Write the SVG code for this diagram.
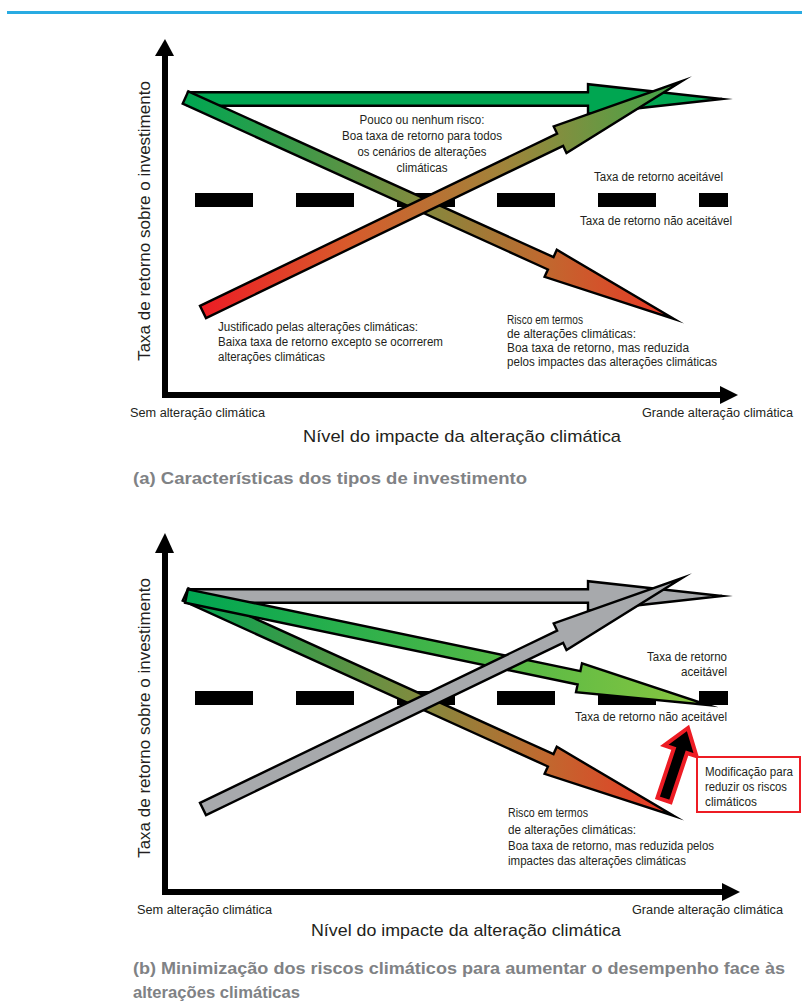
<svg xmlns="http://www.w3.org/2000/svg" width="802" height="1003" viewBox="0 0 802 1003">
<style>
.t{font-family:"Liberation Sans",Arial,sans-serif;font-size:12.5px;fill:#231f20}
.ax{font-family:"Liberation Sans",Arial,sans-serif;font-size:17px;fill:#231f20}
.cap{font-family:"Liberation Sans",Arial,sans-serif;font-size:16px;font-weight:bold;fill:#808285}
.arr{stroke:#000;stroke-width:2.4;stroke-linejoin:miter;stroke-miterlimit:12}
.dash{fill:#000}
</style>
<defs>
<linearGradient id="gDown" gradientUnits="userSpaceOnUse" x1="188" y1="0" x2="682" y2="0">
<stop offset="0" stop-color="#00a651"/><stop offset="0.45" stop-color="#7d8c3f"/><stop offset="0.72" stop-color="#c0692f"/><stop offset="1" stop-color="#ee3224"/>
</linearGradient>
<linearGradient id="gUp" gradientUnits="userSpaceOnUse" x1="200" y1="0" x2="690" y2="0">
<stop offset="0" stop-color="#ed1c24"/><stop offset="0.3" stop-color="#d85a2b"/><stop offset="0.62" stop-color="#a0843a"/><stop offset="1" stop-color="#3aa84a"/>
</linearGradient>
<linearGradient id="gLight" gradientUnits="userSpaceOnUse" x1="188" y1="0" x2="716" y2="0">
<stop offset="0" stop-color="#00a651"/><stop offset="1" stop-color="#8dc63f"/>
</linearGradient>
</defs>
<rect x="7" y="11" width="795" height="3" fill="#29abe2"/>

<g id="panel-a">
<g id="axes-a">
<rect x="162" y="55" width="6" height="343"/>
<polygon points="155,56 165,39 174,56"/>
<rect x="162" y="392" width="560" height="6"/>
<polygon points="720,386 738,395 720,404"/>
</g>
<g id="threshold-a">
<rect class="dash" x="195" y="193" width="58" height="14"/>
<rect class="dash" x="296" y="193" width="58" height="14"/>
<rect class="dash" x="397" y="193" width="58" height="14"/>
<rect class="dash" x="497" y="193" width="58" height="14"/>
<rect class="dash" x="598" y="193" width="58" height="14"/>
<rect class="dash" x="699" y="193" width="29" height="14"/>
</g>
<g id="connectors-a">
<polygon class="arr" fill="#00a651" points="188,92.2 588,92.2 588,84.2 722,99 588,113.8 588,105.8 188,105.8"/>
<polygon class="arr" fill="url(#gDown)" points="188.3,91.3 553.5,257.1 556.8,249.8 674,319 544.6,276.8 547.9,269.5 182.7,103.7"/>
<polygon class="arr" fill="url(#gUp)" points="200,305.9 557.1,133.6 553.7,126.4 682,81 566.5,153 563.1,145.8 206,318.1"/>
</g>
<g id="labels-a">
<text class="t" text-anchor="middle" x="422" y="124" textLength="125" lengthAdjust="spacingAndGlyphs">Pouco ou nenhum risco:</text>
<text class="t" text-anchor="middle" x="422" y="140" textLength="160" lengthAdjust="spacingAndGlyphs">Boa taxa de retorno para todos</text>
<text class="t" text-anchor="middle" x="422" y="156" textLength="129" lengthAdjust="spacingAndGlyphs">os cenários de alterações</text>
<text class="t" text-anchor="middle" x="422" y="172" textLength="51" lengthAdjust="spacingAndGlyphs">climáticas</text>
<text class="t" x="594" y="181" textLength="129" lengthAdjust="spacingAndGlyphs">Taxa de retorno aceitável</text>
<text class="t" x="580" y="225" textLength="152" lengthAdjust="spacingAndGlyphs">Taxa de retorno não aceitável</text>
<text class="t" x="218" y="331" textLength="200" lengthAdjust="spacingAndGlyphs">Justificado pelas alterações climáticas:</text>
<text class="t" x="218" y="346" textLength="225" lengthAdjust="spacingAndGlyphs">Baixa taxa de retorno excepto se ocorrerem</text>
<text class="t" x="218" y="361" textLength="107" lengthAdjust="spacingAndGlyphs">alterações climáticas</text>
<text class="t" x="507" y="324" textLength="76" lengthAdjust="spacingAndGlyphs">Risco em termos</text>
<text class="t" x="507" y="338" textLength="129" lengthAdjust="spacingAndGlyphs">de alterações climáticas:</text>
<text class="t" x="507" y="352" textLength="182" lengthAdjust="spacingAndGlyphs">Boa taxa de retorno, mas reduzida</text>
<text class="t" x="507" y="366" textLength="210" lengthAdjust="spacingAndGlyphs">pelos impactes das alterações climáticas</text>
<text class="t" x="130" y="417" textLength="135" lengthAdjust="spacingAndGlyphs">Sem alteração climática</text>
<text class="t" x="642" y="417" textLength="151" lengthAdjust="spacingAndGlyphs">Grande alteração climática</text>
<text class="ax" x="303" y="442" textLength="318" lengthAdjust="spacingAndGlyphs">Nível do impacte da alteração climática</text>
<text class="ax" text-anchor="middle" transform="translate(150,221) rotate(-90)">Taxa de retorno sobre o investimento</text>
<text class="cap" x="133" y="484" textLength="394" lengthAdjust="spacingAndGlyphs">(a) Características dos tipos de investimento</text>
</g>
</g>

<g id="panel-b">
<g id="axes-b">
<rect x="162" y="552" width="6" height="343"/>
<polygon points="155,553 165,533 174,553"/>
<rect x="162" y="889" width="560" height="6"/>
<polygon points="722,883 740,892 722,901"/>
</g>
<g id="threshold-b">
<rect class="dash" x="195" y="691" width="58" height="14"/>
<rect class="dash" x="296" y="691" width="58" height="14"/>
<rect class="dash" x="397" y="691" width="58" height="14"/>
<rect class="dash" x="497" y="691" width="58" height="14"/>
<rect class="dash" x="598" y="691" width="58" height="14"/>
<rect class="dash" x="699" y="691" width="29" height="14"/>
</g>
<g id="connectors-b">
<polygon class="arr" fill="#a7a9ac" points="188,589.2 588,589.2 588,581.2 722,596 588,610.8 588,602.8 188,602.8"/>
<polygon class="arr" fill="url(#gDown)" transform="translate(0,497)" points="188.3,91.3 553.5,257.1 556.8,249.8 674,319 544.6,276.8 547.9,269.5 182.7,103.7"/>
<polygon class="arr" fill="url(#gLight)" points="187.9,589.3 580.4,671.1 582,663.3 708,705 576,692.3 577.6,684.5 185.1,602.7"/>
<polygon class="arr" fill="#a7a9ac" transform="translate(0,497)" points="200,305.9 557.1,133.6 553.7,126.4 682,81 566.5,153 563.1,145.8 206,318.1"/>
<polygon fill="#000" stroke="#ed1c24" stroke-width="4" stroke-linejoin="miter" points="657.4,797.8 673.8,748.6 664.3,745.4 688,728 696.5,756.2 687,753 670.6,802.2"/>
</g>
<g id="note-b">
<rect x="697" y="757" width="103" height="55" fill="#fff" stroke="#ed1c24" stroke-width="2"/>
<text class="t" x="705" y="776" textLength="88" lengthAdjust="spacingAndGlyphs">Modificação para</text>
<text class="t" x="705" y="791" textLength="82" lengthAdjust="spacingAndGlyphs">reduzir os riscos</text>
<text class="t" x="705" y="806" textLength="52" lengthAdjust="spacingAndGlyphs">climáticos</text>
</g>
<g id="labels-b">
<text class="t" x="647" y="661" textLength="80" lengthAdjust="spacingAndGlyphs">Taxa de retorno</text>
<text class="t" x="681" y="676" textLength="46" lengthAdjust="spacingAndGlyphs">aceitável</text>
<text class="t" x="575" y="721" textLength="152" lengthAdjust="spacingAndGlyphs">Taxa de retorno não aceitável</text>
<text class="t" x="508" y="817" textLength="80" lengthAdjust="spacingAndGlyphs">Risco em termos</text>
<text class="t" x="508" y="834" textLength="128" lengthAdjust="spacingAndGlyphs">de alterações climáticas:</text>
<text class="t" x="508" y="850" textLength="206" lengthAdjust="spacingAndGlyphs">Boa taxa de retorno, mas reduzida pelos</text>
<text class="t" x="508" y="865" textLength="178" lengthAdjust="spacingAndGlyphs">impactes das alterações climáticas</text>
<text class="t" x="137" y="914" textLength="135" lengthAdjust="spacingAndGlyphs">Sem alteração climática</text>
<text class="t" x="632" y="914" textLength="151" lengthAdjust="spacingAndGlyphs">Grande alteração climática</text>
<text class="ax" x="311" y="936" textLength="310" lengthAdjust="spacingAndGlyphs">Nível do impacte da alteração climática</text>
<text class="ax" text-anchor="middle" transform="translate(150,718) rotate(-90)">Taxa de retorno sobre o investimento</text>
<text class="cap" x="133" y="974" textLength="652" lengthAdjust="spacingAndGlyphs">(b) Minimização dos riscos climáticos para aumentar o desempenho face às</text>
<text class="cap" x="133" y="998" textLength="167" lengthAdjust="spacingAndGlyphs">alterações climáticas</text>
</g>
</g>
</svg>
